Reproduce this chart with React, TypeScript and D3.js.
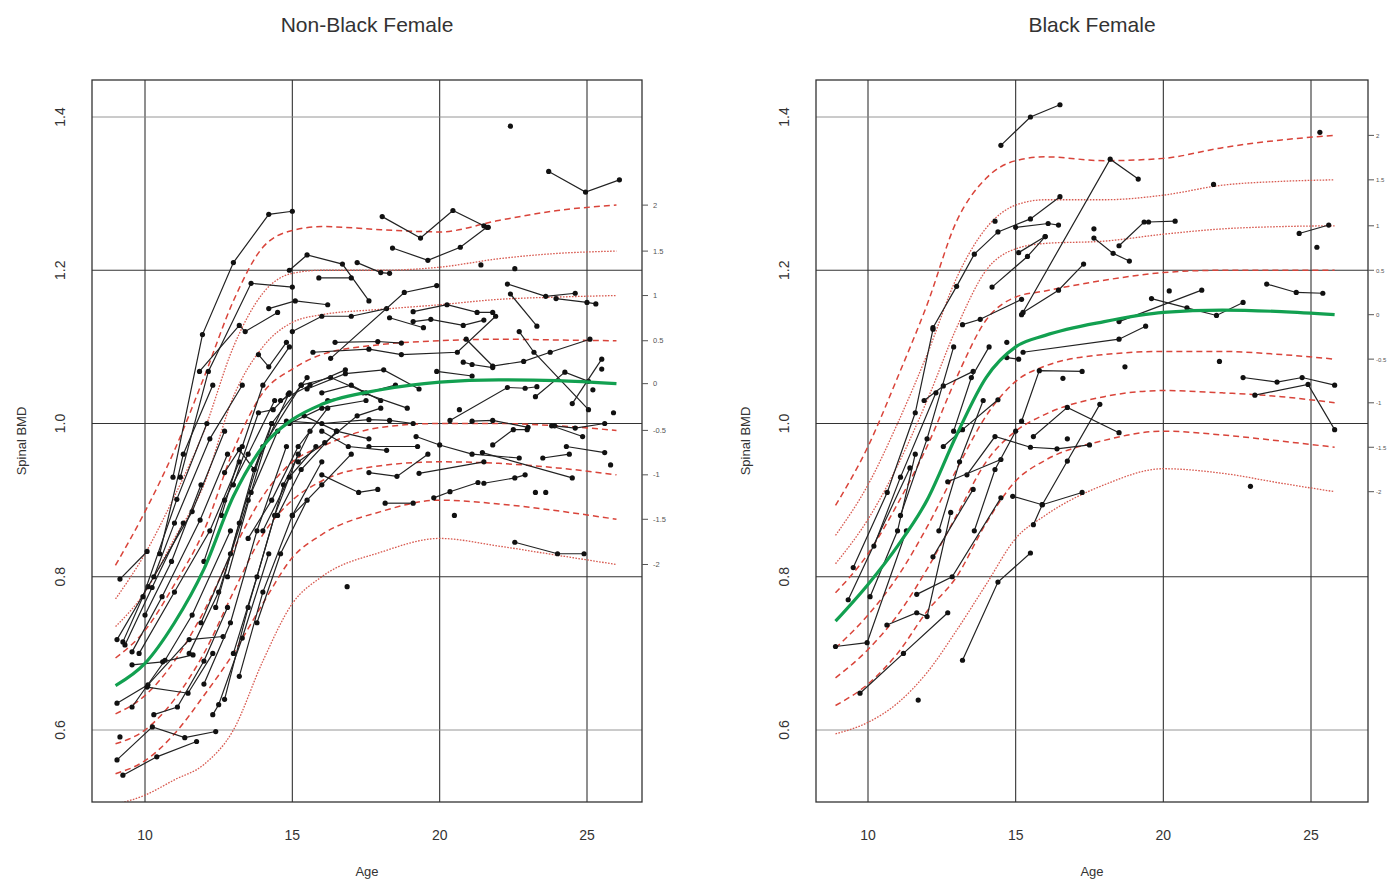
import { useEffect, useRef } from 'react';
import * as d3 from 'd3';

type Pt = [number, number];

// z-score labels of the reference curves, top to bottom
const zLabels = ['2', '1.5', '1', '0.5', '0', '-0.5', '-1', '-1.5', '-2'];
const zStyles = ['dash', 'dot', 'dot', 'dash', 'median', 'dash', 'dash', 'dash', 'dot'];
const ageTicks = [10, 15, 20, 25];
const bmdTicks = [0.6, 0.8, 1.0, 1.2, 1.4];

// ---- Non-Black Female reference curves
const nonBlackAges = [9, 10, 11, 12, 13, 14, 15, 16, 18, 20, 22, 24, 26];
const nonBlackZ2 = [0.815, 0.885, 0.965, 1.06, 1.16, 1.23, 1.252, 1.257, 1.253, 1.25, 1.265, 1.278, 1.285];
const nonBlackZ15 = [0.771, 0.83, 0.905, 0.99, 1.1, 1.17, 1.196, 1.2, 1.2, 1.204, 1.215, 1.222, 1.225];
const nonBlackZ1 = [0.735, 0.78, 0.85, 0.92, 1.035, 1.1, 1.132, 1.142, 1.149, 1.155, 1.162, 1.165, 1.167];
const nonBlackZ05 = [0.694, 0.73, 0.79, 0.86, 0.965, 1.04, 1.071, 1.09, 1.103, 1.108, 1.11, 1.109, 1.108];
const nonBlackZ0 = [0.658, 0.687, 0.74, 0.81, 0.905, 0.97, 1.005, 1.025, 1.044, 1.054, 1.057, 1.056, 1.052];
const nonBlackZm05 = [0.621, 0.645, 0.69, 0.755, 0.835, 0.905, 0.95, 0.97, 0.995, 1.0, 1.0, 0.997, 0.991];
const nonBlackZm1 = [0.582, 0.6, 0.64, 0.7, 0.78, 0.855, 0.9, 0.925, 0.945, 0.95, 0.948, 0.942, 0.933];
const nonBlackZm15 = [0.543, 0.56, 0.595, 0.645, 0.7, 0.765, 0.825, 0.855, 0.885, 0.9, 0.895, 0.886, 0.875];
const nonBlackZm2 = [0.503, 0.515, 0.535, 0.555, 0.6, 0.69, 0.765, 0.8, 0.832, 0.85, 0.84, 0.828, 0.816];
const nonBlackCurves = [nonBlackZ2, nonBlackZ15, nonBlackZ1, nonBlackZ05, nonBlackZ0, nonBlackZm05, nonBlackZm1, nonBlackZm15, nonBlackZm2];

// ---- Black Female reference curves
const blackAges = [8.9, 10, 11, 12, 13, 14, 15, 16, 18, 20, 22, 24, 25.8];
const blackZ2 = [0.893, 0.97, 1.06, 1.155, 1.264, 1.32, 1.343, 1.348, 1.343, 1.346, 1.36, 1.37, 1.376];
const blackZ15 = [0.854, 0.92, 1.0, 1.09, 1.19, 1.255, 1.285, 1.292, 1.292, 1.298, 1.311, 1.316, 1.318];
const blackZ1 = [0.817, 0.875, 0.945, 1.03, 1.125, 1.2, 1.228, 1.235, 1.238, 1.247, 1.254, 1.257, 1.258];
const blackZ05 = [0.779, 0.83, 0.895, 0.97, 1.06, 1.135, 1.165, 1.173, 1.187, 1.197, 1.2, 1.2, 1.2];
const blackZ0 = [0.742, 0.79, 0.84, 0.9, 0.985, 1.06, 1.1, 1.115, 1.133, 1.145, 1.148, 1.146, 1.142];
const blackZm05 = [0.707, 0.75, 0.8, 0.865, 0.94, 1.01, 1.055, 1.075, 1.09, 1.094, 1.094, 1.09, 1.084];
const blackZm1 = [0.668, 0.705, 0.75, 0.81, 0.88, 0.95, 0.99, 1.012, 1.035, 1.043, 1.04, 1.035, 1.027];
const blackZm15 = [0.632, 0.66, 0.7, 0.755, 0.8, 0.87, 0.925, 0.952, 0.978, 0.99, 0.985, 0.977, 0.969];
const blackZm2 = [0.595, 0.61, 0.635, 0.675, 0.73, 0.79, 0.85, 0.88, 0.92, 0.941, 0.935, 0.922, 0.911];
const blackCurves = [blackZ2, blackZ15, blackZ1, blackZ05, blackZ0, blackZm05, blackZm1, blackZm15, blackZm2];

// ---- individual girls, [age, spinal BMD] per visit
const nonBlackSubjects: Pt[][] = [
  [[9.15, 0.797], [10.07, 0.833]],
  [[9.05, 0.718], [10.1, 0.787], [11.6, 0.885], [12.7, 0.99]],
  [[9.25, 0.715], [9.93, 0.774], [11.08, 0.901], [12.1, 1.0]],
  [[9.32, 0.711], [10.24, 0.786], [11.3, 0.87]],
  [[9.56, 0.702], [10.58, 0.774], [11.87, 0.874], [12.8, 0.96]],
  [[9.05, 0.635], [10.1, 0.659], [11.5, 0.718], [12.65, 0.722]],
  [[9.56, 0.63], [10.68, 0.691], [11.6, 0.75], [12.9, 0.86]],
  [[9.56, 0.685], [10.6, 0.689], [11.63, 0.698]],
  [[9.05, 0.561], [10.25, 0.604], [11.35, 0.59], [12.4, 0.598]],
  [[9.25, 0.541], [10.4, 0.565], [11.75, 0.585]],
  [[9.15, 0.591]],
  [[10.07, 0.656], [11.46, 0.648], [12.3, 0.7]],
  [[10.3, 0.62], [11.1, 0.63], [12.0, 0.69], [12.8, 0.76]],
  [[10.0, 0.75], [10.9, 0.82], [11.9, 0.92]],
  [[10.3, 0.8], [11.0, 0.87], [12.2, 0.98], [13.3, 1.05]],
  [[10.5, 0.83], [11.3, 0.96], [12.3, 1.05]],
  [[9.8, 0.7], [11.0, 0.78], [12.2, 0.86], [13.2, 0.95]],
  [[11.5, 0.7], [12.5, 0.78], [13.5, 0.9], [14.5, 0.99]],
  [[12.0, 0.66], [12.9, 0.74], [13.8, 0.86], [14.8, 0.97]],
  [[12.3, 0.62], [12.5, 0.633], [13.3, 0.72], [14.2, 0.83]],
  [[12.7, 0.64], [13.5, 0.76], [14.4, 0.88], [15.2, 0.96]],
  [[11.9, 0.74], [12.9, 0.83], [13.7, 0.94], [14.9, 1.04]],
  [[12.4, 0.76], [13.2, 0.87], [14.0, 0.97], [15.3, 1.05]],
  [[12.8, 0.8], [13.6, 0.91], [14.3, 1.0], [15.5, 1.06]],
  [[13.0, 0.7], [13.8, 0.8], [14.7, 0.92], [15.6, 0.99]],
  [[13.2, 0.67], [14.0, 0.78], [15.0, 0.88], [16.0, 0.95]],
  [[12.0, 0.82], [12.7, 0.9], [13.5, 0.96], [14.4, 1.03]],
  [[12.6, 0.88], [13.3, 0.97], [14.0, 1.05], [14.9, 1.1]],
  [[13.0, 0.92], [13.85, 1.014], [14.35, 1.018], [14.86, 1.038]],
  [[13.85, 1.09], [14.2, 1.074], [14.8, 1.106]],
  [[12.7, 0.936], [13.2, 0.966], [13.7, 0.94], [14.3, 1.0]],
  [[13.5, 0.85], [14.3, 0.9], [15.2, 0.97], [16.2, 1.02]],
  [[14.0, 0.86], [14.9, 0.93], [15.8, 0.97]],
  [[14.5, 0.88], [15.3, 0.94], [16.5, 0.99]],
  [[13.8, 0.74], [14.6, 0.83], [15.5, 0.9]],
  [[15.0, 0.88], [16.0, 0.92], [17.0, 0.96]],
  [[15.2, 0.95], [16.1, 0.975], [17.2, 1.01], [18.0, 1.02]],
  [[14.9, 1.0], [16.0, 1.02], [17.5, 1.03]],
  [[15.3, 1.05], [16.3, 1.06], [17.5, 1.04], [18.5, 1.05]],
  [[14.6, 1.03], [15.6, 1.05], [16.8, 1.07]],
  [[15.4, 1.01], [16.5, 0.99], [17.6, 0.98]],
  [[16.0, 1.04], [17.0, 1.05], [18.0, 1.03]],
  [[14.2, 1.15], [15.1, 1.16], [16.2, 1.155]],
  [[15.0, 1.12], [16.0, 1.14], [17.0, 1.14], [18.2, 1.15]],
  [[10.95, 0.93], [11.95, 1.116], [13.0, 1.21], [14.2, 1.273], [15.0, 1.277]],
  [[11.2, 0.93], [12.15, 1.068], [13.6, 1.183], [15.0, 1.178]],
  [[11.85, 1.068], [13.2, 1.128], [13.4, 1.12], [14.5, 1.145]],
  [[14.9, 1.2], [15.5, 1.22], [16.7, 1.208], [17.6, 1.16]],
  [[15.9, 1.19], [17.0, 1.19]],
  [[17.2, 1.21], [18.0, 1.197], [18.3, 1.196]],
  [[18.05, 1.27], [19.35, 1.242], [20.45, 1.278], [21.5, 1.258], [21.65, 1.256]],
  [[18.4, 1.229], [19.6, 1.213], [20.7, 1.23], [21.6, 1.256]],
  [[21.4, 1.207]],
  [[22.55, 1.202]],
  [[22.4, 1.388]],
  [[23.7, 1.329], [24.95, 1.302], [26.1, 1.318]],
  [[22.3, 1.182], [23.6, 1.166], [24.6, 1.17]],
  [[23.95, 1.163], [25.0, 1.158], [25.3, 1.156]],
  [[22.4, 1.169], [23.3, 1.127]],
  [[16.3, 1.085], [18.8, 1.171], [19.9, 1.18]],
  [[19.1, 1.146], [20.25, 1.155], [21.27, 1.145], [21.8, 1.145]],
  [[19.1, 1.133], [19.7, 1.136], [20.8, 1.128], [21.5, 1.135]],
  [[18.3, 1.138], [19.45, 1.125]],
  [[16.45, 1.106], [17.9, 1.107], [18.7, 1.105]],
  [[15.7, 1.093], [17.6, 1.097], [18.7, 1.09], [20.6, 1.093], [21.9, 1.14]],
  [[20.9, 1.11], [21.8, 1.075], [22.85, 1.081], [23.75, 1.093], [25.1, 1.11]],
  [[22.7, 1.12], [23.2, 1.093], [25.05, 1.018]],
  [[20.8, 1.08], [21.1, 1.077], [21.8, 1.073]],
  [[19.9, 1.068], [21.1, 1.062]],
  [[20.35, 1.004], [22.3, 1.047], [22.9, 1.046], [23.3, 1.048]],
  [[23.25, 1.035], [24.25, 1.067], [25.05, 1.055]],
  [[24.5, 1.026], [25.5, 1.084]],
  [[25.5, 1.071]],
  [[25.2, 1.044]],
  [[25.9, 1.014]],
  [[20.67, 1.018]],
  [[14.8, 1.003], [16.0, 1.0], [17.6, 1.005], [18.3, 1.004], [19.1, 1.0]],
  [[21.1, 1.003], [21.8, 1.004], [23.0, 0.995]],
  [[23.9, 0.997], [24.6, 0.994], [25.6, 1.0]],
  [[21.8, 0.972], [22.5, 0.992], [22.97, 0.992]],
  [[23.8, 0.997], [24.85, 0.983]],
  [[19.2, 0.983], [20.0, 0.972], [21.1, 0.96], [22.7, 0.955]],
  [[21.45, 0.962], [24.5, 0.929]],
  [[17.6, 0.97], [19.25, 0.97]],
  [[16.0, 0.933], [17.25, 0.91], [17.9, 0.914]],
  [[17.6, 0.936], [18.55, 0.931], [19.6, 0.96]],
  [[19.3, 0.935], [21.5, 0.95]],
  [[18.15, 0.896], [19.1, 0.896]],
  [[19.8, 0.903], [20.35, 0.911], [21.3, 0.923]],
  [[21.5, 0.922], [22.55, 0.929], [22.9, 0.933]],
  [[24.3, 0.97], [25.6, 0.962]],
  [[25.8, 0.946]],
  [[23.5, 0.955], [24.4, 0.96]],
  [[22.55, 0.845], [24.0, 0.83], [24.9, 0.83]],
  [[23.6, 0.91]],
  [[20.5, 0.88]],
  [[16.86, 0.787]],
  [[23.25, 0.91]],
  [[15.5, 1.045], [16.8, 1.065], [18.1, 1.07], [19.3, 1.045]],
  [[16.2, 1.03], [17.4, 1.04], [18.9, 1.02]],
  [[16.0, 0.99], [16.9, 0.97], [18.2, 0.965]],
];

const blackSubjects: Pt[][] = [
  [[14.5, 1.363], [15.5, 1.4], [16.5, 1.416]],
  [[15.2, 1.142], [18.2, 1.345], [19.15, 1.319]],
  [[12.2, 1.125], [13.0, 1.179], [13.6, 1.221], [14.4, 1.25], [15.5, 1.267], [16.5, 1.296]],
  [[15.0, 1.256], [16.1, 1.261], [16.45, 1.259]],
  [[14.3, 1.264]],
  [[15.1, 1.223], [16.0, 1.244]],
  [[14.2, 1.178], [15.4, 1.218], [16.0, 1.244]],
  [[15.25, 1.145], [16.45, 1.174], [17.3, 1.208]],
  [[17.65, 1.254]],
  [[17.65, 1.242], [18.3, 1.222], [18.85, 1.212]],
  [[18.5, 1.232], [19.35, 1.263], [19.5, 1.263], [20.4, 1.264]],
  [[24.6, 1.248], [25.6, 1.259]],
  [[23.5, 1.182], [24.5, 1.171], [25.4, 1.17]],
  [[19.6, 1.163], [20.8, 1.151], [21.8, 1.141], [22.7, 1.158]],
  [[18.5, 1.133], [21.3, 1.174]],
  [[20.2, 1.173]],
  [[15.25, 1.093], [18.5, 1.11], [19.4, 1.127]],
  [[21.7, 1.312]],
  [[25.2, 1.23]],
  [[25.3, 1.38]],
  [[21.9, 1.081]],
  [[22.95, 0.918]],
  [[18.7, 1.074]],
  [[16.6, 1.059]],
  [[16.75, 0.98]],
  [[22.7, 1.06], [23.85, 1.054], [24.7, 1.06], [25.8, 1.05]],
  [[23.1, 1.037], [24.9, 1.051], [25.8, 0.992]],
  [[15.2, 1.003], [15.8, 1.069], [17.25, 1.068]],
  [[15.6, 0.983], [16.75, 1.021], [18.5, 0.988]],
  [[13.35, 0.933], [14.3, 0.983], [15.5, 0.969], [16.4, 0.967], [17.5, 0.972]],
  [[15.6, 0.868], [15.9, 0.894], [16.75, 0.951], [17.85, 1.025]],
  [[14.9, 0.905], [15.9, 0.894], [17.25, 0.91]],
  [[13.2, 1.129], [13.8, 1.136], [15.2, 1.162]],
  [[9.5, 0.812], [10.65, 0.91], [11.6, 1.014], [12.2, 1.123]],
  [[9.33, 0.77], [11.42, 0.942]],
  [[10.07, 0.774], [11.0, 0.86], [11.6, 0.96]],
  [[8.9, 0.709], [9.97, 0.714], [11.3, 0.86]],
  [[9.73, 0.648], [11.2, 0.7], [12.7, 0.753]],
  [[10.64, 0.737], [11.65, 0.753], [12.0, 0.748], [12.8, 0.884]],
  [[11.65, 0.777], [12.85, 0.8], [14.5, 0.903]],
  [[12.2, 0.826], [13.56, 0.914]],
  [[12.7, 0.924], [14.5, 0.953]],
  [[12.55, 0.97], [13.2, 0.992], [14.4, 1.031]],
  [[11.9, 1.03], [12.55, 1.049], [13.56, 1.068]],
  [[13.2, 0.691], [14.4, 0.793], [15.5, 0.831]],
  [[11.7, 0.639]],
  [[14.7, 1.106]],
  [[14.7, 1.086], [15.1, 1.084]],
  [[10.2, 0.84], [11.1, 0.93], [12.3, 1.04]],
  [[11.1, 0.88], [12.0, 0.98], [12.9, 1.1]],
  [[12.4, 0.86], [13.1, 0.95], [13.9, 1.03]],
  [[12.9, 0.99], [13.5, 1.06], [14.1, 1.1]],
  [[13.6, 0.86], [14.3, 0.94], [15.0, 0.99]],
];

const panels = [
  { title: 'Non-Black Female', left: 92, right: 642, x10: 145, x25: 587, labelGap: 11, labelSize: 7.5, ages: nonBlackAges, curves: nonBlackCurves, subjects: nonBlackSubjects },
  { title: 'Black Female', left: 816, right: 1368, x10: 868, x25: 1311, labelGap: 8, labelSize: 6, ages: blackAges, curves: blackCurves, subjects: blackSubjects },
];

const TOP = 80;
const BOTTOM = 802;
const FONT = '"Liberation Sans", Arial, Helvetica, sans-serif';

const App = () => {
  const svgRef = useRef<SVGSVGElement | null>(null);

  useEffect(() => {
    const svg = d3.select(svgRef.current);
    svg.selectAll('*').remove();

    const y = d3.scaleLinear().domain([0.6, 1.4]).range([730, 117]);

    panels.forEach((p, pi) => {
      const x = d3.scaleLinear().domain([10, 25]).range([p.x10, p.x25]);
      const g = svg.append('g');
      const cx = (p.left + p.right) / 2;

      const clipId = 'clip' + pi;
      svg.append('clipPath').attr('id', clipId)
        .append('rect')
        .attr('x', p.left).attr('y', TOP)
        .attr('width', p.right - p.left).attr('height', BOTTOM - TOP);

      // grid
      g.selectAll('.vg').data(ageTicks).enter().append('line')
        .attr('x1', d => x(d)).attr('x2', d => x(d))
        .attr('y1', TOP).attr('y2', BOTTOM)
        .attr('stroke', '#333').attr('stroke-width', 1.1);
      g.selectAll('.hg').data(bmdTicks).enter().append('line')
        .attr('x1', p.left).attr('x2', p.right)
        .attr('y1', d => y(d)).attr('y2', d => y(d))
        .attr('stroke', d => (d === 1.4 || d === 0.6 ? '#8a8a8a' : '#333'))
        .attr('stroke-width', d => (d === 1.4 || d === 0.6 ? 0.9 : 1.1));

      const plot = g.append('g').attr('clip-path', `url(#${clipId})`);

      const curveLine = d3.line<number>()
        .x((_, i) => x(p.ages[i]))
        .y(d => y(d))
        .curve(d3.curveMonotoneX);

      // red percentile curves
      p.curves.forEach((c, i) => {
        const st = zStyles[i];
        if (st === 'median') return;
        plot.append('path')
          .attr('d', curveLine(c))
          .attr('fill', 'none')
          .attr('stroke', st === 'dash' ? '#d9443a' : '#d85a50')
          .attr('stroke-width', st === 'dash' ? 1.5 : 1.3)
          .attr('stroke-dasharray', st === 'dash' ? '6,4' : '1.6,1.4');
      });

      // subjects
      const subjLine = d3.line<Pt>().x(d => x(d[0])).y(d => y(d[1]));
      p.subjects.forEach(s => {
        if (s.length > 1) {
          plot.append('path')
            .attr('d', subjLine(s))
            .attr('fill', 'none')
            .attr('stroke', '#222')
            .attr('stroke-width', 1.2);
        }
        plot.selectAll(null).data(s).enter().append('circle')
          .attr('cx', d => x(d[0])).attr('cy', d => y(d[1]))
          .attr('r', 2.6).attr('fill', '#111');
      });

      // median curve
      plot.append('path')
        .attr('d', curveLine(p.curves[4]))
        .attr('fill', 'none')
        .attr('stroke', '#12a050')
        .attr('stroke-width', 3.2);

      // box
      g.append('rect')
        .attr('x', p.left).attr('y', TOP)
        .attr('width', p.right - p.left).attr('height', BOTTOM - TOP)
        .attr('fill', 'none').attr('stroke', '#333').attr('stroke-width', 1.3);

      // right-hand z ticks at the curve ends
      const last = p.ages.length - 1;
      zLabels.forEach((lab, i) => {
        const yy = y(p.curves[i][last]);
        g.append('line')
          .attr('x1', p.right).attr('x2', p.right + 6)
          .attr('y1', yy).attr('y2', yy)
          .attr('stroke', '#555').attr('stroke-width', 1);
        g.append('text')
          .attr('x', p.right + p.labelGap).attr('y', yy + 2.5)
          .attr('font-family', FONT).attr('font-size', p.labelSize)
          .attr('fill', '#555')
          .text(lab);
      });

      // axes text
      g.append('text')
        .attr('x', cx).attr('y', 32)
        .attr('text-anchor', 'middle')
        .attr('font-family', FONT).attr('font-size', 21)
        .attr('fill', '#333')
        .text(p.title);

      g.selectAll('.xt').data(ageTicks).enter().append('text')
        .attr('x', d => x(d)).attr('y', 840)
        .attr('text-anchor', 'middle')
        .attr('font-family', FONT).attr('font-size', 14)
        .attr('fill', '#333')
        .text(d => String(d));

      g.append('text')
        .attr('x', cx).attr('y', 876)
        .attr('text-anchor', 'middle')
        .attr('font-family', FONT).attr('font-size', 13)
        .attr('fill', '#333')
        .text('Age');

      g.selectAll('.yt').data(bmdTicks).enter().append('text')
        .attr('transform', d => `translate(${p.left - 27},${y(d)}) rotate(-90)`)
        .attr('text-anchor', 'middle')
        .attr('font-family', FONT).attr('font-size', 14)
        .attr('fill', '#333')
        .text(d => d.toFixed(1));

      g.append('text')
        .attr('transform', `translate(${p.left - 66},441) rotate(-90)`)
        .attr('text-anchor', 'middle')
        .attr('font-family', FONT).attr('font-size', 13)
        .attr('fill', '#333')
        .text('Spinal BMD');
    });
  }, []);

  return (
    <svg
      ref={svgRef}
      width={1388}
      height={879}
      style={{ position: 'absolute', left: 0, top: 0, background: '#fff', display: 'block' }}
    />
  );
};

export default App;
